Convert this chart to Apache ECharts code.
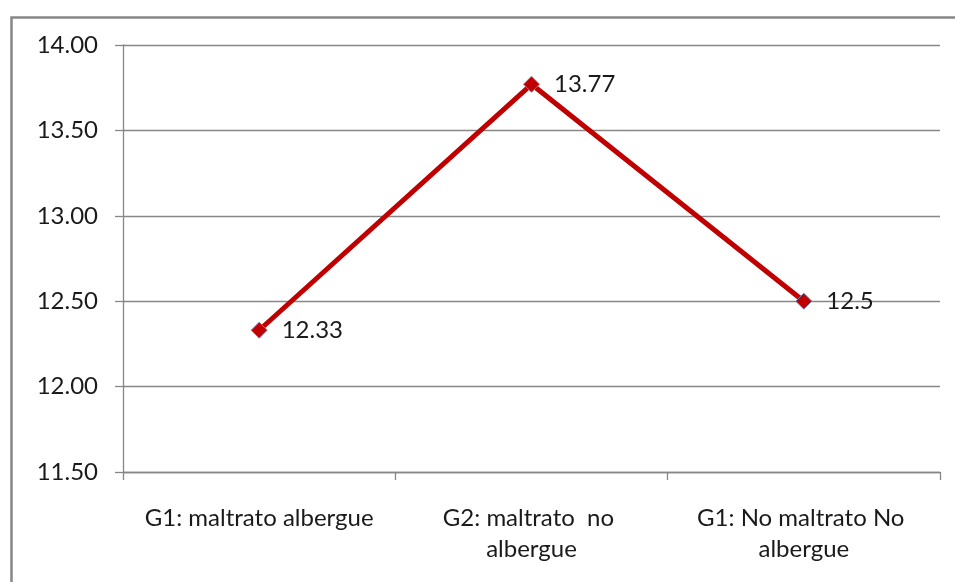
<!DOCTYPE html>
<html>
<head>
<meta charset="utf-8">
<script src="https://cdn.jsdelivr.net/npm/echarts@6/dist/echarts.min.js"></script>
<style>html,body{margin:0;padding:0;background:#fff}#c{width:955px;height:582px}</style>
</head>
<body>
<div id="c"></div>
<script>
var categories = ['G1: maltrato albergue', 'G2: maltrato  no albergue', 'G1: No maltrato No albergue'];
var values = [12.33, 13.77, 12.5];
var yMin = 11.5, yMax = 14, yInterval = 0.5;

var chart = echarts.init(document.getElementById('c'));
var font = 'Lato, "Open Sans", sans-serif';
chart.setOption({
  animation: false,
  graphic: [{
    type: 'rect', left: 9, top: 15, silent: true,
    shape: {width: 970, height: 620},
    style: {fill: 'none', stroke: '#878787', lineWidth: 2.5}
  }],
  grid: {left: 123, right: 15, top: 45, bottom: 110, containLabel: false},
  xAxis: {
    type: 'category',
    data: categories,
    boundaryGap: true,
    axisLine: {lineStyle: {color: '#878787', width: 1.3}},
    axisTick: {show: true, length: 8, alignWithLabel: false, lineStyle: {color: '#878787', width: 1.3}},
    axisLabel: {
      interval: 0, margin: 31, fontSize: 24, color: '#1a1a1a', fontFamily: font,
      width: 255, overflow: 'break', lineHeight: 31, align: 'center'
    },
    splitLine: {show: false}
  },
  yAxis: {
    type: 'value',
    min: yMin, max: yMax, interval: yInterval,
    axisLine: {show: true, lineStyle: {color: '#878787', width: 1.3}},
    axisTick: {show: true, length: 8, lineStyle: {color: '#878787', width: 1.3}},
    axisLabel: {
      margin: 25, fontSize: 24, color: '#1a1a1a', fontFamily: font,
      formatter: function (v) { return v.toFixed(2); }
    },
    splitLine: {show: true, lineStyle: {color: '#878787', width: 1.3}}
  },
  series: [{
    type: 'line',
    data: values,
    symbol: 'diamond',
    symbolSize: 16,
    lineStyle: {color: '#C00000', width: 5},
    itemStyle: {color: '#C00000', borderColor: '#6F7FB5', borderWidth: 1},
    label: {
      show: true, position: 'right', distance: 14,
      fontSize: 24, color: '#1a1a1a', fontFamily: font,
      formatter: function (p) { return String(p.value); }
    }
  }]
});
</script>
</body>
</html>
